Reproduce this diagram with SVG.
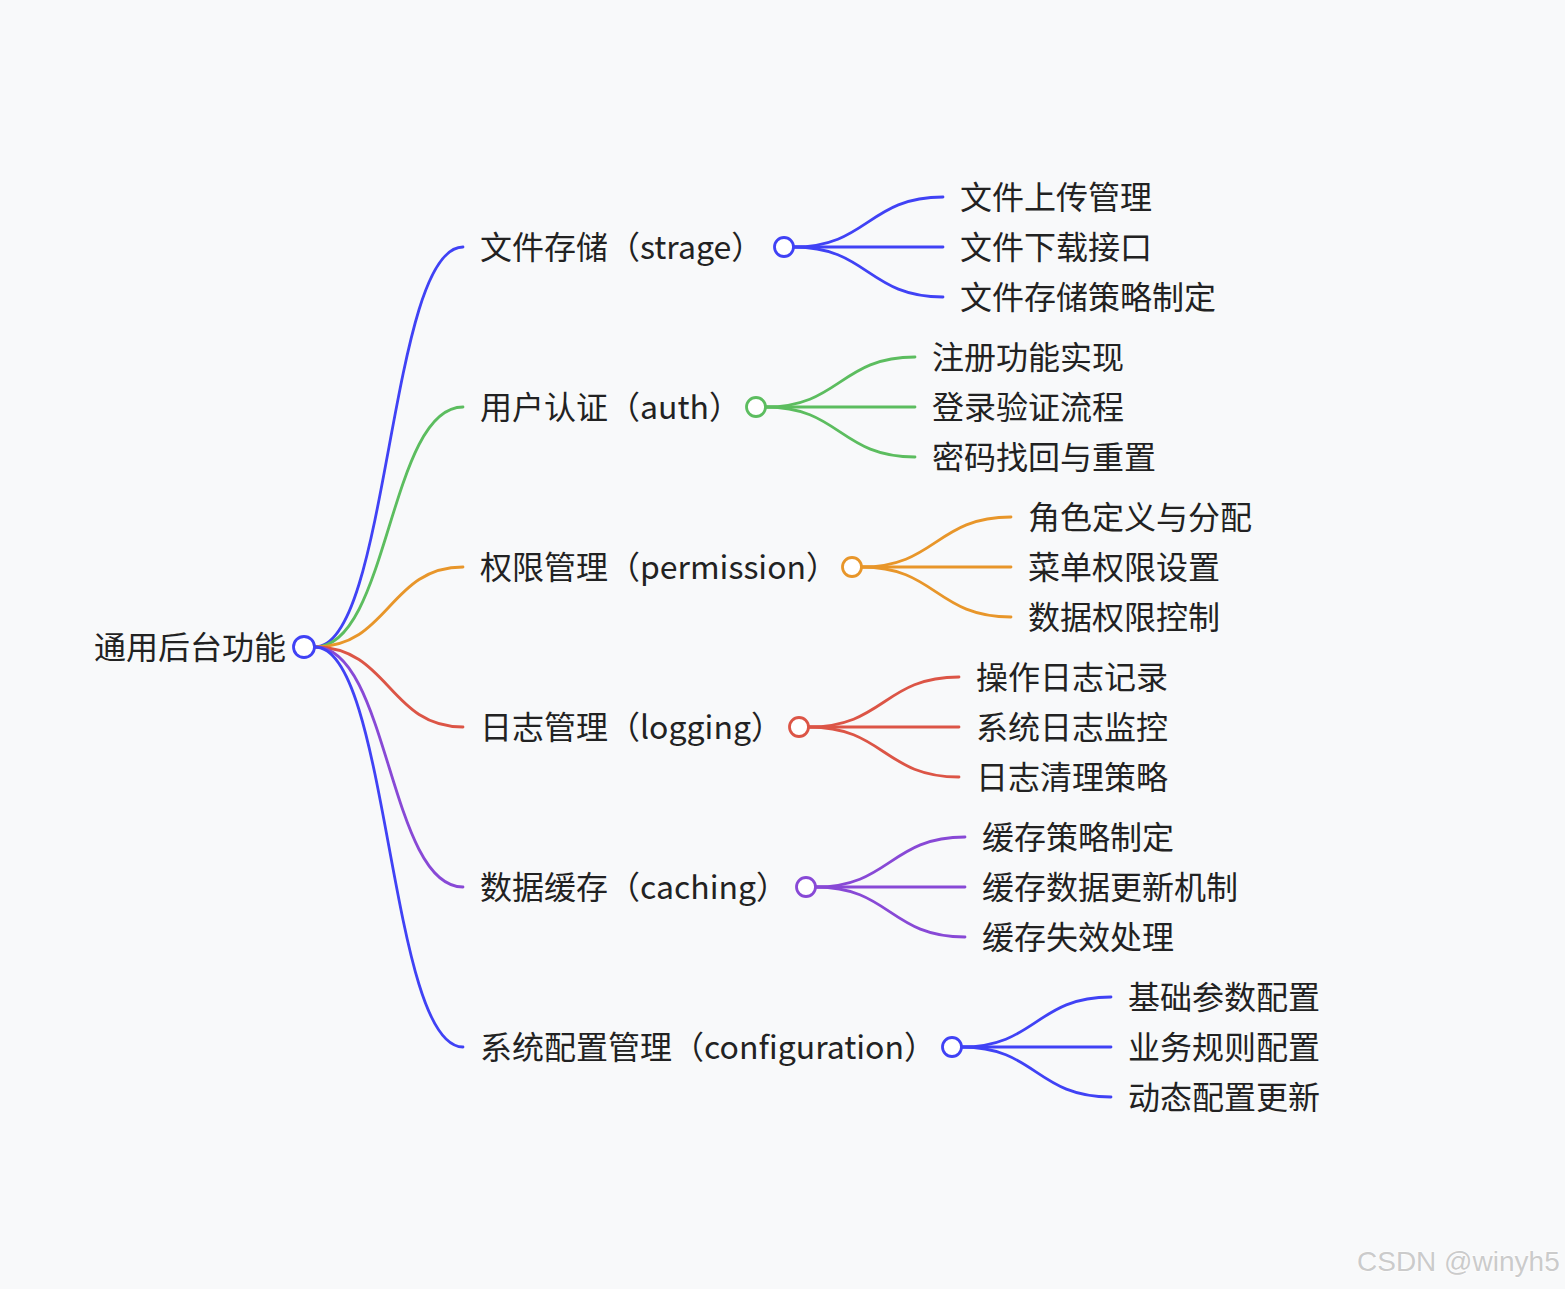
<svg xmlns="http://www.w3.org/2000/svg" width="1565" height="1289" viewBox="0 0 1565 1289">
<style>
text{font-family:"PingFang SC","Noto Sans CJK SC","Noto Sans",sans-serif;font-size:32px;fill:#222}
.e{fill:none;stroke-width:2.8;stroke-linecap:round}
.c{fill:#fff;stroke-width:2.8}
.b{stroke:#4042f5}.g{stroke:#5cbd5f}.o{stroke:#e8962a}.r{stroke:#dc5546}.p{stroke:#8849d6}
.wm{font-family:"Liberation Sans",Arial,sans-serif;font-size:28px;fill:#cbcbcb;stroke:#fff;stroke-width:1.2;paint-order:stroke}
</style>
<rect width="1565" height="1289" fill="#f8f9fa"/>
<g id="connectors">
<path class="e b" d="M315,647 C389,647 389,247 463,247"/>
<path class="e g" d="M315,647 C389,647 389,407 463,407"/>
<path class="e o" d="M315,647 C389,647 389,567 463,567"/>
<path class="e r" d="M315,647 C389,647 389,727 463,727"/>
<path class="e p" d="M315,647 C389,647 389,887 463,887"/>
<path class="e b" d="M315,647 C389,647 389,1047 463,1047"/>

<path class="e b" d="M794,247 C868,247 868,197 943,197"/>
<path class="e b" d="M794,247 L943,247"/>
<path class="e b" d="M794,247 C868,247 868,297 943,297"/>

<path class="e g" d="M766,407 C840,407 840,357 915,357"/>
<path class="e g" d="M766,407 L915,407"/>
<path class="e g" d="M766,407 C840,407 840,457 915,457"/>

<path class="e o" d="M862,567 C936,567 936,517 1011,517"/>
<path class="e o" d="M862,567 L1011,567"/>
<path class="e o" d="M862,567 C936,567 936,617 1011,617"/>

<path class="e r" d="M809,727 C884,727 884,677 959,677"/>
<path class="e r" d="M809,727 L959,727"/>
<path class="e r" d="M809,727 C884,727 884,777 959,777"/>

<path class="e p" d="M816,887 C890,887 890,837 965,837"/>
<path class="e p" d="M816,887 L965,887"/>
<path class="e p" d="M816,887 C890,887 890,937 965,937"/>

<path class="e b" d="M962,1047 C1036,1047 1036,997 1111,997"/>
<path class="e b" d="M962,1047 L1111,1047"/>
<path class="e b" d="M962,1047 C1036,1047 1036,1097 1111,1097"/>
</g>

<g id="root"><text x="94" y="659">通用后台功能</text><circle class="c b" cx="304" cy="647" r="10.5"/></g>

<g id="strage"><text x="480" y="259">文件存储（strage）</text><circle class="c b" cx="784" cy="247" r="9.5"/></g>
<g id="auth"><text x="480" y="419">用户认证（auth）</text><circle class="c g" cx="756" cy="407" r="9.5"/></g>
<g id="permission"><text x="480" y="579">权限管理（permission）</text><circle class="c o" cx="852" cy="567" r="9.5"/></g>
<g id="logging"><text x="480" y="739">日志管理（logging）</text><circle class="c r" cx="799" cy="727" r="9.5"/></g>
<g id="caching"><text x="480" y="899">数据缓存（caching）</text><circle class="c p" cx="806" cy="887" r="9.5"/></g>
<g id="configuration"><text x="480" y="1059">系统配置管理（configuration）</text><circle class="c b" cx="952" cy="1047" r="9.5"/></g>

<g id="strage-children">
<text x="960" y="209">文件上传管理</text>
<text x="960" y="259">文件下载接口</text>
<text x="960" y="309">文件存储策略制定</text>
</g>
<g id="auth-children">
<text x="932" y="369">注册功能实现</text>
<text x="932" y="419">登录验证流程</text>
<text x="932" y="469">密码找回与重置</text>
</g>
<g id="permission-children">
<text x="1028" y="529">角色定义与分配</text>
<text x="1028" y="579">菜单权限设置</text>
<text x="1028" y="629">数据权限控制</text>
</g>
<g id="logging-children">
<text x="976" y="689">操作日志记录</text>
<text x="976" y="739">系统日志监控</text>
<text x="976" y="789">日志清理策略</text>
</g>
<g id="caching-children">
<text x="982" y="849">缓存策略制定</text>
<text x="982" y="899">缓存数据更新机制</text>
<text x="982" y="949">缓存失效处理</text>
</g>
<g id="configuration-children">
<text x="1128" y="1009">基础参数配置</text>
<text x="1128" y="1059">业务规则配置</text>
<text x="1128" y="1109">动态配置更新</text>
</g>

<text class="wm" x="1357" y="1271">CSDN @winyh5</text>
</svg>
